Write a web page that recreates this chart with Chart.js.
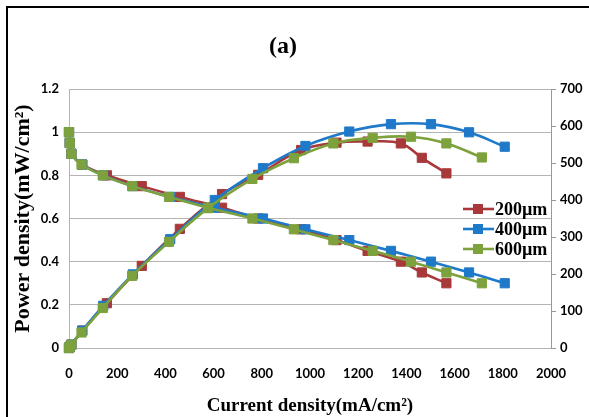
<!DOCTYPE html>
<html>
<head>
<meta charset="utf-8">
<script src="https://cdn.jsdelivr.net/npm/chart.js@4/dist/chart.umd.min.js"></script>
<style>
  html, body { margin: 0; padding: 0; background: #fff; }
  #wrap { width: 589px; height: 417px; position: relative; }
</style>
</head>
<body>
<div id="wrap"><canvas id="c" width="589" height="417"></canvas></div>
<script>
// ---- data ----
const seriesNames = ['200µm', '400µm', '600µm'];
const xTickValues = [0, 200, 400, 600, 800, 1000, 1200, 1400, 1600, 1800, 2000];

const current200 = [0, 3, 10, 55, 157, 302, 460, 635, 785, 963, 1110, 1239, 1377, 1464, 1566];
const voltage200 = [1.0, 0.95, 0.9, 0.85, 0.8, 0.75, 0.7, 0.65, 0.6, 0.55, 0.5, 0.45, 0.4, 0.35, 0.3];
const power200   = [0, 3, 9, 47, 121, 222, 322, 416, 468, 535, 555, 558, 553, 514, 472];

const current400 = [0, 3, 10, 55, 142, 265, 420, 605, 805, 981, 1163, 1336, 1502, 1660, 1808];
const voltage400 = [1.0, 0.95, 0.9, 0.85, 0.8, 0.75, 0.7, 0.65, 0.6, 0.55, 0.5, 0.45, 0.4, 0.35, 0.3];
const power400   = [0, 3, 9, 47, 114, 199, 294, 400, 486, 546, 585, 605, 605, 583, 544];

const current600 = [0, 3, 10, 52, 140, 262, 415, 577, 761, 933, 1097, 1260, 1419, 1566, 1713];
const voltage600 = [1.0, 0.95, 0.9, 0.85, 0.8, 0.75, 0.7, 0.65, 0.6, 0.55, 0.5, 0.45, 0.4, 0.35, 0.3];
const power600   = [0, 3, 9, 42, 108, 195, 287, 378, 457, 513, 553, 568, 571, 553, 515];

const colors = ['#A8393A', '#1F79C9', '#7DA23D'];

function pts(xs, ys) { return xs.map((x, i) => ({ x: x, y: ys[i] })); }

function ds(label, xs, ys, axis, idx) {
  return {
    label: label,
    data: pts(xs, ys),
    yAxisID: axis,
    borderColor: colors[idx],
    backgroundColor: colors[idx],
    borderWidth: 2.6,
    pointStyle: 'rect',
    pointRadius: 6.5,
    pointHoverRadius: 6.5,
    pointBorderWidth: 1,
    pointBackgroundColor: colors[idx],
    pointBorderColor: colors[idx],
    tension: 0.4,
    clip: false,
    order: 2 - idx
  };
}

const datasets = [
  ds(seriesNames[0], current200, voltage200, 'yV', 0),
  ds(seriesNames[0], current200, power200, 'yP', 0),
  ds(seriesNames[1], current400, voltage400, 'yV', 1),
  ds(seriesNames[1], current400, power400, 'yP', 1),
  ds(seriesNames[2], current600, voltage600, 'yV', 2),
  ds(seriesNames[2], current600, power600, 'yP', 2)
];

const tickFont = { family: 'Lato', weight: 'bold', size: 13 };

const decorPlugin = {
  id: 'decor',
  beforeDraw(chart) {
    const ctx = chart.ctx;
    ctx.save();
    ctx.fillStyle = '#ffffff';
    ctx.fillRect(0, 0, chart.width, chart.height);
    ctx.strokeStyle = '#000000';
    ctx.lineWidth = 2;
    ctx.strokeRect(7, 7, 700, 500);
    ctx.restore();
  },
  afterDraw(chart) {
    const ctx = chart.ctx;
    ctx.save();
    // title
    ctx.fillStyle = '#000';
    ctx.font = 'bold 24px "Liberation Serif"';
    ctx.textAlign = 'center';
    ctx.textBaseline = 'middle';
    ctx.fillText('(a)', 283, 47);
    // legend
    ctx.textAlign = 'left';
    ctx.font = 'bold 18px "Liberation Serif"';
    seriesNames.forEach((name, i) => {
      const y = 209 + 20 * i;
      ctx.strokeStyle = colors[i];
      ctx.lineWidth = 2.6;
      ctx.beginPath();
      ctx.moveTo(463, y);
      ctx.lineTo(494, y);
      ctx.stroke();
      ctx.fillStyle = colors[i];
      ctx.fillRect(473, y - 5, 10, 10);
      ctx.fillStyle = '#000';
      ctx.fillText(name, 495, y + 1);
    });
    ctx.restore();
  }
};

new Chart(document.getElementById('c'), {
  type: 'line',
  data: { datasets: datasets },
  plugins: [decorPlugin],
  options: {
    responsive: false,
    animation: false,
    layout: { padding: { top: 89, left: 0, right: 0, bottom: 0 } },
    plugins: {
      legend: { display: false },
      title: { display: false },
      tooltip: { enabled: false }
    },
    scales: {
      x: {
        type: 'linear',
        position: 'bottom',
        min: 0,
        max: 2000,
        afterBuildTicks(scale) { scale.ticks = xTickValues.map(v => ({ value: v })); },
        ticks: {
          stepSize: 200, font: tickFont, color: '#000', padding: 18, maxRotation: 0, autoSkip: false,
          callback: v => String(v)
        },
        grid: { display: false, drawTicks: false },
        border: { display: false },
        title: {
          display: true,
          text: 'Current density(mA/cm²)',
          font: { family: 'Liberation Serif', weight: 'bold', size: 19 },
          color: '#000',
          padding: { top: 0, bottom: 0 }
        },
        afterFit(scale) { scale.height = 69; }
      },
      yV: {
        type: 'linear',
        position: 'left',
        min: 0,
        max: 1.2,
        ticks: {
          stepSize: 0.2,
          font: tickFont,
          color: '#000',
          padding: 10,
          callback: v => String(Math.round(v * 10) / 10)
        },
        grid: { color: '#b4b4b4', lineWidth: 1, drawTicks: false },
        border: { display: true, color: '#b4b4b4' },
        title: {
          display: true,
          text: 'Power density(mW/cm²)',
          font: { family: 'Liberation Serif', weight: 'bold', size: 22 },
          color: '#000',
          padding: { top: 10, bottom: 0 }
        },
        afterFit(scale) { scale.width = 69; }
      },
      yP: {
        type: 'linear',
        position: 'right',
        min: 0,
        max: 700,
        ticks: { stepSize: 100, font: tickFont, color: '#000', padding: 4 },
        grid: { drawOnChartArea: false, drawTicks: true, tickLength: 5, color: '#999' },
        border: { display: true, color: '#999' },
        afterFit(scale) { scale.width = 38; }
      }
    }
  }
});
</script>
</body>
</html>
